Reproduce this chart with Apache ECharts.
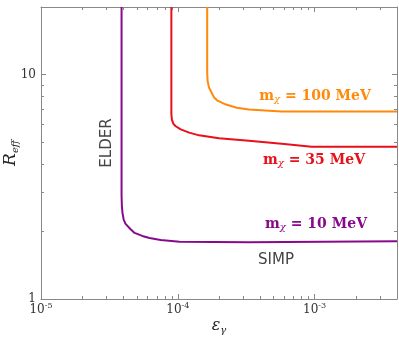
<!DOCTYPE html>
<html>
<head>
<meta charset="utf-8">
<script src="https://cdn.jsdelivr.net/npm/echarts@6/dist/echarts.min.js"></script>
<style>
  html, body { margin: 0; padding: 0; background: #fff; }
  #chart { width: 399px; height: 338px; }
</style>
</head>
<body>
<div id="chart"></div>
<script>
// --- data ---
const xMin = 1e-5, xMax = 4e-3;
const yMin = 1, yMax = 20;

// m_chi = 10 MeV
const curve10 = [
  [3.88e-5, 20], [3.88e-5, 2.9], [3.9e-5, 2.6], [3.94e-5, 2.42], [4.02e-5, 2.26], [4.15e-5, 2.16],
  [4.5e-5, 2.05], [4.83e-5, 1.97], [5.5e-5, 1.91], [6.21e-5, 1.87], [7.5e-5, 1.83],
  [1.03e-4, 1.80], [3.31e-4, 1.79], [4e-3, 1.81]
];
// m_chi = 35 MeV
const curve35 = [
  [8.97e-5, 20], [8.97e-5, 6.7], [9.05e-5, 6.3], [9.27e-5, 6.05], [9.6e-5, 5.9], [1.05e-4, 5.7],
  [1.21e-4, 5.51], [1.43e-4, 5.36], [2e-4, 5.2], [3.31e-4, 5.07], [6e-4, 4.9], [9.5e-4, 4.77], [4e-3, 4.77]
];
// m_chi = 100 MeV
const curve100 = [
  [1.64e-4, 20], [1.64e-4, 10.2], [1.65e-4, 9.4], [1.69e-4, 8.75], [1.75e-4, 8.4], [1.83e-4, 7.95],
  [1.95e-4, 7.65], [2.25e-4, 7.35], [2.7e-4, 7.12], [3.31e-4, 6.98], [5.75e-4, 6.84], [4e-3, 6.84]
];

// minor tick positions
const xMinorTicks = [2, 3, 4, 5, 6, 7, 8, 9].flatMap(k => [k * 1e-5, k * 1e-4])
  .concat([2e-3, 3e-3]);
const yMinorTicks = [2, 3, 4, 5, 6, 7, 8, 9];

const serif = '"DejaVu Serif", "Liberation Serif", serif';
const sans = '"DejaVu Sans", "Open Sans", sans-serif';
const axisGray = '#888';

const chart = echarts.init(document.getElementById('chart'));

// minor ticks drawn through the axis scales
const tickSeries = (vals, isX) => ({
  type: 'custom',
  silent: true,
  data: vals.map(v => [v]),
  renderItem: (params, api) => {
    const v = api.value(0);
    const r = params.coordSys;
    const len = 3;
    const children = [];
    if (isX) {
      const px = Math.round(api.coord([v, yMin])[0]) + 0.5;
      children.push({ type: 'line', shape: { x1: px, y1: r.y + r.height, x2: px, y2: r.y + r.height - len } });
      children.push({ type: 'line', shape: { x1: px, y1: r.y, x2: px, y2: r.y + len } });
    } else {
      const py = Math.round(api.coord([xMin, v])[1]) + 0.5;
      children.push({ type: 'line', shape: { x1: r.x, y1: py, x2: r.x + len, y2: py } });
      children.push({ type: 'line', shape: { x1: r.x + r.width, y1: py, x2: r.x + r.width - len, y2: py } });
    }
    children.forEach(c => { c.style = { stroke: axisGray, lineWidth: 1 }; });
    return { type: 'group', children };
  }
});

const lineSeries = (data, color) => ({
  type: 'line',
  data,
  showSymbol: false,
  lineStyle: { color, width: 2 },
  silent: true
});

const expLabel = v => '10{s|' + Math.round(Math.log10(v)) + '}';

const option = {
  animation: false,
  grid: { left: 41, right: 2, top: 7, bottom: 39, containLabel: false, outerBoundsMode: 'none' },
  xAxis: [{
    type: 'log', min: xMin, max: xMax, logBase: 10,
    axisLine: { lineStyle: { color: axisGray } },
    axisTick: { inside: true, length: 5, lineStyle: { color: axisGray } },
    splitLine: { show: false },
    axisLabel: {
      showMaxLabel: false,
      margin: 3,
      formatter: expLabel,
      fontFamily: serif, fontSize: 12, color: '#333',
      rich: {
        s: { fontFamily: serif, fontSize: 8, color: '#333', verticalAlign: 'top', padding: [0, 0, 8, 0] }
      }
    },
    name: 'ε{sub|γ}',
    nameLocation: 'middle',
    nameGap: 18,
    nameMoveOverlap: false,
    nameTextStyle: {
      fontFamily: serif, fontSize: 16, fontStyle: 'italic', color: '#222',
      rich: { sub: { fontFamily: serif, fontSize: 10, fontStyle: 'italic', color: '#222', padding: [8, 0, 0, 0] } }
    }
  }, {
    type: 'log', min: xMin, max: xMax, logBase: 10, position: 'top',
    axisLine: { lineStyle: { color: axisGray } },
    axisTick: { inside: true, length: 5, lineStyle: { color: axisGray } },
    axisLabel: { show: false },
    splitLine: { show: false }
  }],
  yAxis: [{
    type: 'log', min: yMin, max: yMax, logBase: 10,
    axisLine: { show: true, lineStyle: { color: axisGray } },
    axisTick: { show: true, inside: true, length: 5, lineStyle: { color: axisGray } },
    splitLine: { show: false },
    axisLabel: { showMaxLabel: false, margin: 5, fontFamily: serif, fontSize: 12, color: '#333' },
    name: 'R{sub|eff}',
    nameLocation: 'middle',
    nameGap: 21,
    nameRotate: 90,
    nameMoveOverlap: false,
    nameTextStyle: {
      fontFamily: serif, fontSize: 17, fontStyle: 'italic', color: '#222',
      rich: { sub: { fontFamily: serif, fontSize: 10, color: '#222', padding: [8, 0, 0, 0] } }
    }
  }, {
    type: 'log', min: yMin, max: yMax, logBase: 10, position: 'right',
    axisLine: { show: true, lineStyle: { color: axisGray } },
    axisTick: { show: true, inside: true, length: 5, lineStyle: { color: axisGray } },
    axisLabel: { show: false },
    splitLine: { show: false }
  }],
  series: [
    tickSeries(xMinorTicks, true),
    tickSeries(yMinorTicks, false),
    lineSeries(curve10, '#880a8c'),
    lineSeries(curve35, '#e8101a'),
    lineSeries(curve100, '#ff8a0a')
  ]
};

option.graphic = [
  { text: 'm{c|χ} = 100 MeV', color: '#ff8a0a', x: 315, y: 96 },
  { text: 'm{c|χ} = 35 MeV', color: '#e8101a', x: 314, y: 160 },
  { text: 'm{c|χ} = 10 MeV', color: '#880a8c', x: 316, y: 224 }
].map(t => ({
  type: 'text', x: t.x, y: t.y, silent: true,
  style: {
    text: t.text, fill: t.color, fontFamily: serif, fontWeight: 'bold', fontSize: 14,
    align: 'center', verticalAlign: 'middle',
    rich: { c: { fontFamily: serif, fontSize: 10, fill: t.color, fontStyle: 'italic', padding: [6, 0, 0, 0] } }
  }
})).concat([
  { type: 'text', x: 276, y: 260, silent: true,
    style: { text: 'SIMP', fill: '#444', fontFamily: sans, fontSize: 15, align: 'center', verticalAlign: 'middle' } },
  { type: 'text', x: 107, y: 143, rotation: Math.PI / 2, silent: true,
    style: { text: 'ELDER', fill: '#444', fontFamily: sans, fontSize: 15, align: 'center', verticalAlign: 'middle' } }
]);

chart.setOption(option);
</script>
</body>
</html>
